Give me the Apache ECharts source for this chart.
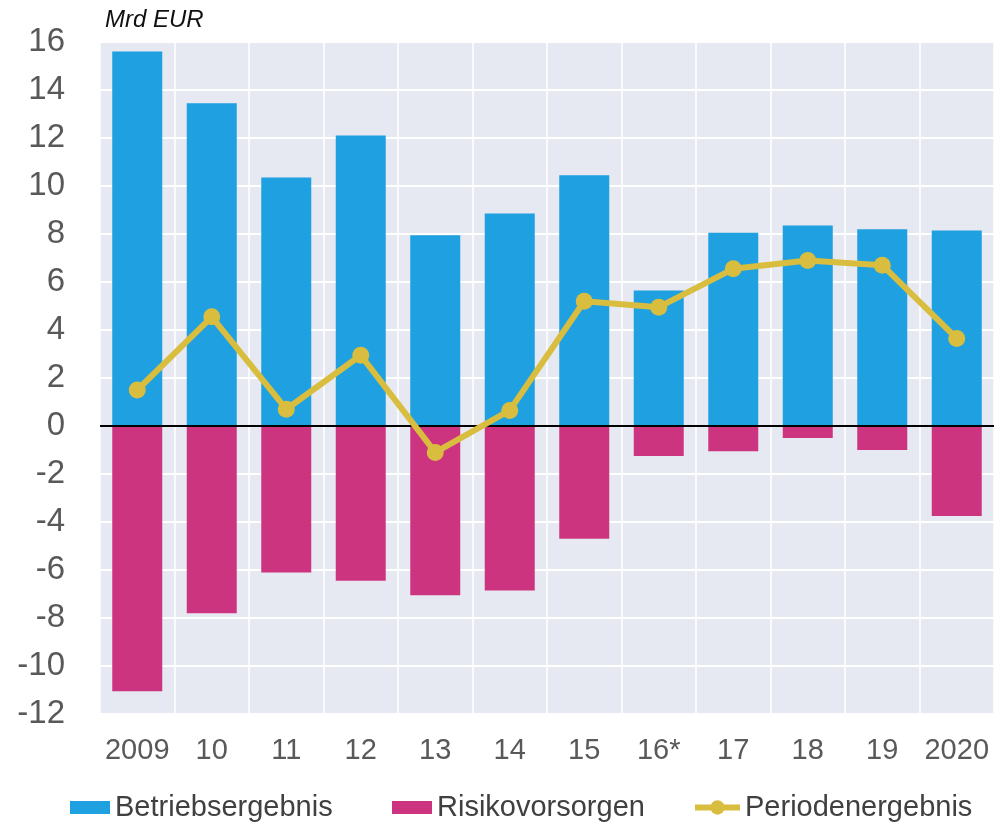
<!DOCTYPE html>
<html>
<head>
<meta charset="utf-8">
<script src="https://cdn.jsdelivr.net/npm/echarts@6/dist/echarts.min.js"></script>
<style>
  html, body { margin: 0; padding: 0; background: #fff; }
  #chart { width: 994px; height: 822px; }
</style>
</head>
<body>
<div id="chart"></div>
<script>
const years = ['2009', '10', '11', '12', '13', '14', '15', '16*', '17', '18', '19', '2020']
const betriebsergebnis = [15.6, 13.45, 10.35, 12.1, 7.95, 8.85, 10.45, 5.65, 8.05, 8.35, 8.2, 8.15]
const risikovorsorgen = [-11.05, -7.8, -6.1, -6.45, -7.05, -6.85, -4.7, -1.25, -1.05, -0.5, -1.0, -3.75]
const periodenergebnis = [1.5, 4.55, 0.7, 2.95, -1.1, 0.65, 5.2, 4.95, 6.55, 6.9, 6.7, 3.65]

const chart = echarts.init(document.getElementById('chart'))

const font = 'Liberation Sans, Arial, sans-serif'
const legendText = { fontSize: 29, color: '#404040', fontFamily: font }

chart.setOption({
  animation: false,
  textStyle: { fontFamily: font },
  title: {
    text: 'Mrd EUR',
    left: 100,
    top: 3,
    textStyle: { fontFamily: font, fontStyle: 'italic', fontWeight: 'normal', fontSize: 24, color: '#111' }
  },
  grid: {
    left: 100, right: -1, top: 42, bottom: 108,
    show: true, backgroundColor: '#e6e9f1', borderWidth: 0
  },
  legend: [
    { left: 65, top: 788, itemWidth: 40, itemHeight: 13, textStyle: legendText, data: [{ name: 'Betriebsergebnis', icon: 'rect' }] },
    { left: 387, top: 788, itemWidth: 40, itemHeight: 13, textStyle: legendText, data: [{ name: 'Risikovorsorgen', icon: 'rect' }] },
    { left: 687, top: 788, itemWidth: 45, itemHeight: 18, textStyle: legendText, lineStyle: { width: 6 }, data: [{ name: 'Periodenergebnis' }] }
  ],
  xAxis: {
    type: 'category',
    data: years,
    axisLine: { show: false },
    axisTick: { show: false },
    axisLabel: { interval: 0, fontSize: 29, color: '#595959', margin: 22, fontFamily: font },
    splitLine: { show: true, interval: 0, lineStyle: { color: '#ffffff', width: 1.5 } }
  },
  yAxis: {
    type: 'value',
    min: -12,
    max: 16,
    interval: 2,
    axisLine: { show: false },
    axisTick: { show: false },
    axisLabel: { fontSize: 33, color: '#595959', margin: 35, fontFamily: font },
    splitLine: { lineStyle: { color: '#ffffff', width: 2 } }
  },
  series: [
    {
      name: 'Betriebsergebnis',
      type: 'bar',
      stack: 'total',
      barWidth: 50,
      itemStyle: { color: '#1fa0e1' },
      data: betriebsergebnis
    },
    {
      name: 'Risikovorsorgen',
      type: 'bar',
      stack: 'total',
      barWidth: 50,
      itemStyle: { color: '#cd3480' },
      data: risikovorsorgen,
      markLine: {
        silent: true,
        symbol: 'none',
        label: { show: false },
        lineStyle: { color: '#000', width: 2, type: 'solid' },
        data: [{ yAxis: 0 }]
      }
    },
    {
      name: 'Periodenergebnis',
      type: 'line',
      symbol: 'circle',
      symbolSize: 17,
      z: 5,
      lineStyle: { color: '#d9bd3e', width: 6 },
      itemStyle: { color: '#d9bd3e' },
      data: periodenergebnis
    }
  ]
})
</script>
</body>
</html>
